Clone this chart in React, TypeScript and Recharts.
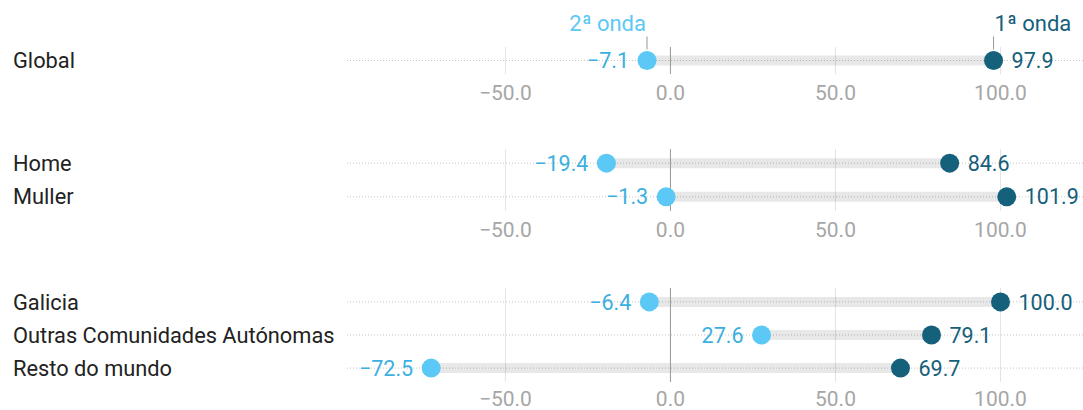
import React from "react";
import { ComposedChart, Line, XAxis, YAxis, ReferenceLine, LabelList } from "recharts";

const panel1Names = ["Global"];
const panel1Wave1 = [97.9];
const panel1Wave2 = [-7.1];

const panel2Names = ["Home", "Muller"];
const panel2Wave1 = [84.6, 101.9];
const panel2Wave2 = [-19.4, -1.3];

const panel3Names = ["Galicia", "Outras Comunidades Autónomas", "Resto do mundo"];
const panel3Wave1 = [100.0, 79.1, 69.7];
const panel3Wave2 = [-6.4, 27.6, -72.5];

const xTicks = [-50, 0, 50, 100];
const xDomain = [-98, 125];
const wave1Label = "1ª onda";
const wave2Label = "2ª onda";

const FONT = "Roboto, 'Noto Sans', sans-serif";
const C_LIGHT = "#5bc8f5";
const C_LIGHT_TEXT = "#3bb0e0";
const C_DARK = "#15607a";

const fmt = (v: number) => (v < 0 ? "\u2212" : "") + Math.abs(v).toFixed(1);

type PanelProps = {
  names: string[];
  w1: number[];
  w2: number[];
  top: number;
  marginTop: number;
  plotHeight: number;
  axisHeight: number;
  tickMargin: number;
  header?: boolean;
};

function Panel({ names, w1, w2, top, marginTop, plotHeight, axisHeight, tickMargin, header }: PanelProps) {
  const n = names.length;
  const data = names.map((name, i) => ({ name, idx: i, w1: w1[i], w2: w2[i] }));
  const idxTicks = names.map((_, i) => i);
  const height = marginTop + plotHeight + axisHeight;
  const renderTick = (p: any) => (
    <text x={13} y={p.y} dy="0.35em" fontSize={21.8} fill="#222" fontFamily={FONT} textAnchor="start">
      {names[p.payload.value]}
    </text>
  );
  const headerContent = (label: string, color: string, anchor: "start" | "end") => (p: any) => {
    const x = Number(p.x);
    const y = Number(p.y);
    return (
      <g>
        <line x1={x} x2={x} y1={y - 24} y2={y - 11} stroke="#999" strokeWidth={1} />
        <text x={anchor === "end" ? x - 1 : x + 1} y={y - 30} fontSize={22} fill={color} textAnchor={anchor} fontFamily={FONT}>
          {label}
        </text>
      </g>
    );
  };
  return (
    <div style={{ position: "absolute", left: 0, top }}>
      <ComposedChart
        width={1083}
        height={height}
        data={data}
        layout="vertical"
        margin={{ top: marginTop, right: 0, bottom: 0, left: 13 }}
      >
        <XAxis
          type="number"
          domain={xDomain}
          ticks={xTicks}
          allowDataOverflow
          axisLine={false}
          tickLine={false}
          stroke="none"
          tickMargin={tickMargin}
          height={axisHeight}
          tickFormatter={fmt}
          tick={{ fill: "#a6a6a6", fontSize: 21, fontFamily: FONT }}
        />
        <YAxis
          type="number"
          dataKey="idx"
          domain={[-0.42, n - 1 + 0.42]}
          ticks={idxTicks}
          allowDataOverflow
          width={334}
          axisLine={false}
          tickLine={false}
          stroke="none"
          tick={renderTick}
        />
        {xTicks.map((t) => (
          <ReferenceLine key={"v" + t} x={t} stroke="#e4e4e4" strokeWidth={1} />
        ))}
        {data.map((d) => (
          <ReferenceLine key={"h" + d.idx} y={d.idx} stroke="#c4c4c4" strokeDasharray="1 2" />
        ))}
        {data.map((d) => (
          <ReferenceLine
            key={"s" + d.idx}
            segment={[{ x: d.w2, y: d.idx }, { x: d.w1, y: d.idx }]}
            stroke="rgba(0,0,0,0.09)"
            strokeWidth={10}
          />
        ))}
        <ReferenceLine x={0} stroke="#999" strokeWidth={1} />
        <Line
          dataKey="w2"
          stroke="none"
          isAnimationActive={false}
          dot={{ r: 9.5, fill: C_LIGHT, stroke: "none" }}
          activeDot={false}
        >
          <LabelList dataKey="w2" position="left" offset={18} formatter={fmt} fill={C_LIGHT_TEXT} fontSize={21.5} fontFamily={FONT} />
          {header ? <LabelList dataKey="w2" content={headerContent(wave2Label, C_LIGHT, "end")} /> : null}
        </Line>
        <Line
          dataKey="w1"
          stroke="none"
          isAnimationActive={false}
          dot={{ r: 9.5, fill: C_DARK, stroke: "none" }}
          activeDot={false}
        >
          <LabelList dataKey="w1" position="right" offset={18} formatter={fmt} fill={C_DARK} fontSize={21.5} fontFamily={FONT} />
          {header ? <LabelList dataKey="w1" content={headerContent(wave1Label, C_DARK, "start")} /> : null}
        </Line>
      </ComposedChart>
    </div>
  );
}

export default function App() {
  return (
    <div style={{ position: "absolute", left: 0, top: 0, width: 1083, height: 410, background: "#fff", fontFamily: FONT, overflow: "hidden" }}>
      <Panel names={panel1Names} w1={panel1Wave1} w2={panel1Wave2} top={0} marginTop={47} plotHeight={27} axisHeight={36} tickMargin={5} header />
      <Panel names={panel2Names} w1={panel2Wave1} w2={panel2Wave2} top={120} marginTop={29} plotHeight={62} axisHeight={36} tickMargin={5} />
      <Panel names={panel3Names} w1={panel3Wave1} w2={panel3Wave2} top={260} marginTop={28} plotHeight={94} axisHeight={28} tickMargin={3} />
    </div>
  );
}
